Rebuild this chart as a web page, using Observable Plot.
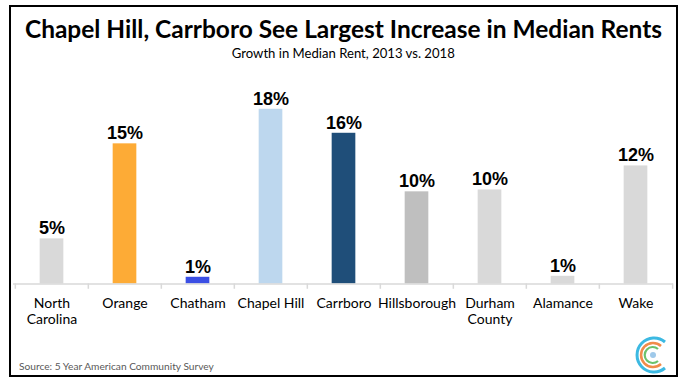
<!DOCTYPE html>
<html>
<head>
<meta charset="utf-8">
<script src="https://cdn.jsdelivr.net/npm/d3@7"></script>
<script src="https://cdn.jsdelivr.net/npm/@observablehq/plot@0.6"></script>
<style>
  html, body { margin: 0; padding: 0; background: #fff; }
  #page { position: relative; width: 686px; height: 380px; overflow: hidden; background: #fff; }
  #frame { position: absolute; left: 9px; top: 5px; width: 669px; height: 372px; border: 2px solid #000; box-sizing: border-box; }
  #chart { position: absolute; left: 0; top: 70px; }
  #texts { position: absolute; left: 0; top: 0; }
  #logo { position: absolute; left: 632px; top: 334px; }
</style>
</head>
<body>
<div id="page">
  <div id="frame"></div>
  <div id="chart"></div>
  <svg id="texts" width="686" height="380">
    <text id="title" x="343.5" y="37.7" text-anchor="middle" font-family="Lato, 'Open Sans', sans-serif" font-weight="bold" font-size="24" fill="#000">Chapel Hill, Carrboro See Largest Increase in Median Rents</text>
    <text id="subtitle" x="343.3" y="58.3" text-anchor="middle" font-family="Lato, 'Open Sans', sans-serif" font-size="12" fill="#000">Growth in Median Rent, 2013 vs. 2018</text>
    <text id="source" x="19" y="369.5" text-anchor="start" font-family="Lato, 'Open Sans', sans-serif" font-size="10.5" fill="#595959">Source: 5 Year American Community Survey</text>
  </svg>
  <svg id="logo" width="40" height="42" viewBox="0 0 40 42">
    <path d="M 33 8 A 17 17 0 1 0 33 34" fill="none" stroke="#3cb9e2" stroke-width="3"/>
    <path d="M 29 12 A 12 12 0 1 0 29 30" fill="none" stroke="#f08c4a" stroke-width="2.5"/>
    <path d="M 26 15 A 8 8 0 1 0 26 27" fill="none" stroke="#6cc26c" stroke-width="2.2"/>
    <circle cx="21" cy="21" r="3" fill="#9fc9ea"/>
  </svg>
</div>
<script>
const categories = ["North Carolina", "Orange", "Chatham", "Chapel Hill", "Carrboro", "Hillsborough", "Durham County", "Alamance", "Wake"];
const axisLabels = ["North\nCarolina", "Orange", "Chatham", "Chapel Hill", "Carrboro", "Hillsborough", "Durham\nCounty", "Alamance", "Wake"];
const growth = [4.7, 14.6, 0.7, 18.2, 15.7, 9.6, 9.8, 0.8, 12.3];
const barColors = ["#d9d9d9", "#fdab36", "#3b4fe4", "#bdd7ee", "#1f4e79", "#bfbfbf", "#d9d9d9", "#d9d9d9", "#d9d9d9"];

const data = categories.map((c, i) => ({cat: c, label: axisLabels[i], v: growth[i], color: barColors[i]}));

const W = 686, H = 280, ML = 13, MR = 13;
const step = (W - ML - MR) / categories.length;
const inset = (step - 24) / 2;

const chart = Plot.plot({
  width: W,
  height: H,
  marginLeft: ML,
  marginRight: MR,
  marginTop: 21.5,
  marginBottom: 66.5,
  x: {domain: categories, padding: 0, axis: null},
  y: {domain: [0, 20], axis: null},
  color: {type: "identity"},
  style: {background: "transparent", overflow: "visible"},
  marks: [
    Plot.barY(data, {x: "cat", y: "v", fill: "color", insetLeft: inset, insetRight: inset}),
    Plot.ruleY([0], {stroke: "#d9d9d9", strokeWidth: 1.5}),
    Plot.ruleX(categories, {x: d => d, dx: -step / 2, y1: 0, y2: -0.55, stroke: "#d9d9d9", strokeWidth: 1.5}),
    Plot.ruleX([categories[categories.length - 1]], {x: d => d, dx: step / 2, y1: 0, y2: -0.55, stroke: "#d9d9d9", strokeWidth: 1.5}),
    Plot.text(data, {x: "cat", y: "v", text: d => Math.round(d.v) + "%", lineAnchor: "bottom", dy: -4.5,
      fontSize: 18, fontWeight: "bold", fontFamily: "'Liberation Sans', Arial, sans-serif", fill: "#000"}),
    Plot.text(data, {x: "cat", y: () => 0, text: "label", lineAnchor: "top", dy: 12, lineHeight: 1.18,
      fontSize: 14, fontFamily: "Lato, 'Open Sans', sans-serif", fill: "#000"})
  ]
});
document.getElementById("chart").appendChild(chart);

function fit(id, target) {
  const el = document.getElementById(id);
  const w = el.getComputedTextLength();
  const fs = parseFloat(el.getAttribute("font-size"));
  if (w > 0) el.setAttribute("font-size", (fs * target / w).toFixed(2));
}
fit("title", 637);
fit("subtitle", 223);
fit("source", 195);
</script>
</body>
</html>
